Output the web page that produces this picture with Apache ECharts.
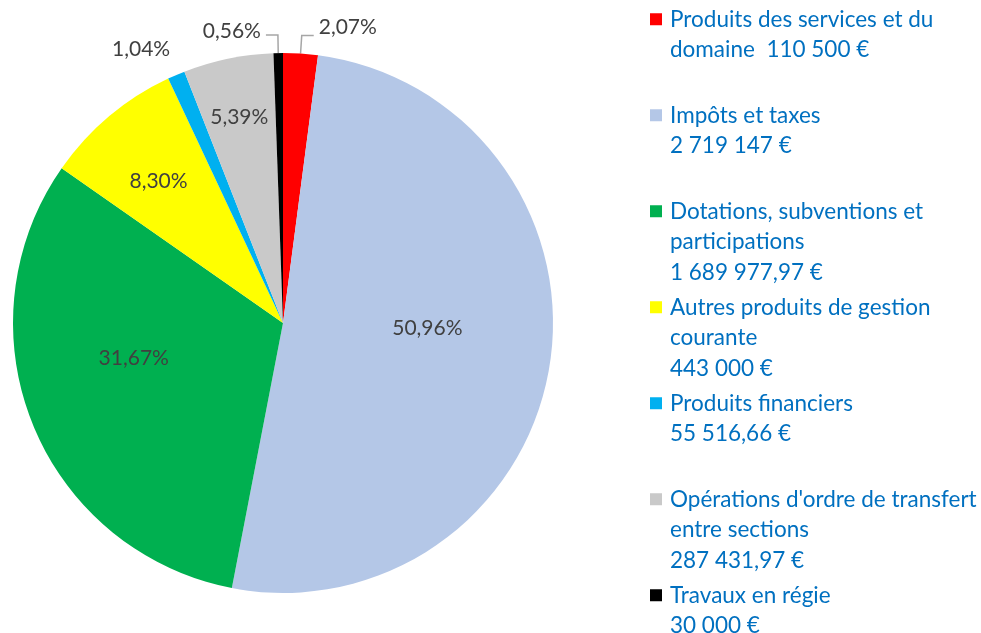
<!DOCTYPE html>
<html>
<head>
<meta charset="utf-8">
<script src="https://cdn.jsdelivr.net/npm/echarts@6/dist/echarts.min.js"></script>
<style>
  html, body { margin: 0; padding: 0; background: #fff; }
  #chart { width: 981px; height: 633px; }
</style>
</head>
<body>
<div id="chart"></div>
<script>
const categories = [
  'Produits des services et du domaine',
  'Impôts et taxes',
  'Dotations, subventions et participations',
  'Autres produits de gestion courante',
  'Produits financiers',
  "Opérations d'ordre de transfert entre sections",
  'Travaux en régie'
]
const amounts = [110500, 2719147, 1689977.97, 443000, 55516.66, 287431.97, 30000]
// legend wrapping as in the original, '@' is where the amount goes
const legendLines = [
  ['Produits des services et du', 'domaine  @'],
  ['Impôts et taxes', '@'],
  ['Dotations, subventions et', 'participations', '@'],
  ['Autres produits de gestion', 'courante', '@'],
  ['Produits financiers', '@'],
  ["Opérations d'ordre de transfert", 'entre sections', '@'],
  ['Travaux en régie', '@']
]
const colors = ['#FF0000', '#B4C7E7', '#00B050', '#FFFF00', '#00B0F0', '#C9C9C9', '#000000']

const CX = 283
const CY = 323
// label placement tweaks: radius fraction for inside labels, then a small nudge
const insideLabelRadius = [0, 0.53, 0.56, 0.70, 0, 0.78, 0]
const labelNudge = [[0, -8], [0, -18], [-6, -23], [0, 6], [10, 0], [0, 5], [0, -4]]

const total = amounts.reduce((a, b) => a + b, 0)

function euro(v) {
  const parts = v.toFixed(2).split('.')
  const grouped = parts[0].replace(/\B(?=(\d{3})+(?!\d))/g, ' ')
  return grouped + (parts[1] === '00' ? '' : ',' + parts[1]) + ' €'
}

function pct(v) {
  return (v / total * 100).toFixed(2).replace('.', ',') + '%'
}

const rich = {
  t: { fontSize: 22.5, lineHeight: 30.5, color: '#0070C0', fontFamily: 'Lato' },
  ind: { width: 20 },
  gap: { width: 8 }
}
colors.forEach((c, i) => {
  rich['sq' + i] = { width: 12, height: 12, backgroundColor: c }
})

const chart = echarts.init(document.getElementById('chart'))
chart.setOption({
  backgroundColor: '#ffffff',
  animation: false,
  legend: {
    orient: 'vertical',
    left: 645,
    top: 4,
    height: 900,
    padding: 0,
    icon: 'none',
    itemWidth: 0,
    itemHeight: 0,
    itemGap: 4.5,
    selectedMode: false,
    data: categories,
    textStyle: {
      fontSize: 22.5,
      lineHeight: 30.5,
      color: '#0070C0',
      fontFamily: 'Lato',
      rich: rich
    },
    formatter: function (name) {
      const i = categories.indexOf(name)
      const lines = legendLines[i].map(l => l.replace('@', euro(amounts[i])))
      while (lines.length < 3) lines.push(' ')
      return lines.map((l, k) => (k === 0 ? '{sq' + i + '|}{gap|}' : '{ind|}') + '{t|' + l + '}').join('\n')
    }
  },
  series: [{
    type: 'pie',
    center: [CX, CY],
    radius: 270,
    startAngle: 90,
    clockwise: true,
    avoidLabelOverlap: false,
    label: {
      fontFamily: 'Lato',
      fontSize: 21,
      color: '#404040',
      formatter: p => pct(p.value)
    },
    labelLine: {
      length: 18,
      length2: 12,
      lineStyle: { color: '#A6A6A6', width: 1.5 }
    },
    labelLayout: function (p) {
      const i = p.dataIndex
      const f = insideLabelRadius[i]
      let dx = labelNudge[i][0]
      let dy = labelNudge[i][1]
      if (f) {
        const r = p.labelRect
        const s = f / 0.5 - 1
        dx += (r.x + r.width / 2 - CX) * s
        dy += (r.y + r.height / 2 - CY) * s
      }
      return { dx: dx, dy: dy }
    },
    data: categories.map((name, i) => {
      const item = { name: name, value: amounts[i], itemStyle: { color: colors[i] } }
      if (amounts[i] / total > 0.025) {
        item.label = { position: 'inside' }
      } else if (i === 4) {
        item.labelLine = { show: false, length: 28, length2: 0 }
      }
      return item
    })
  }]
})
</script>
</body>
</html>
